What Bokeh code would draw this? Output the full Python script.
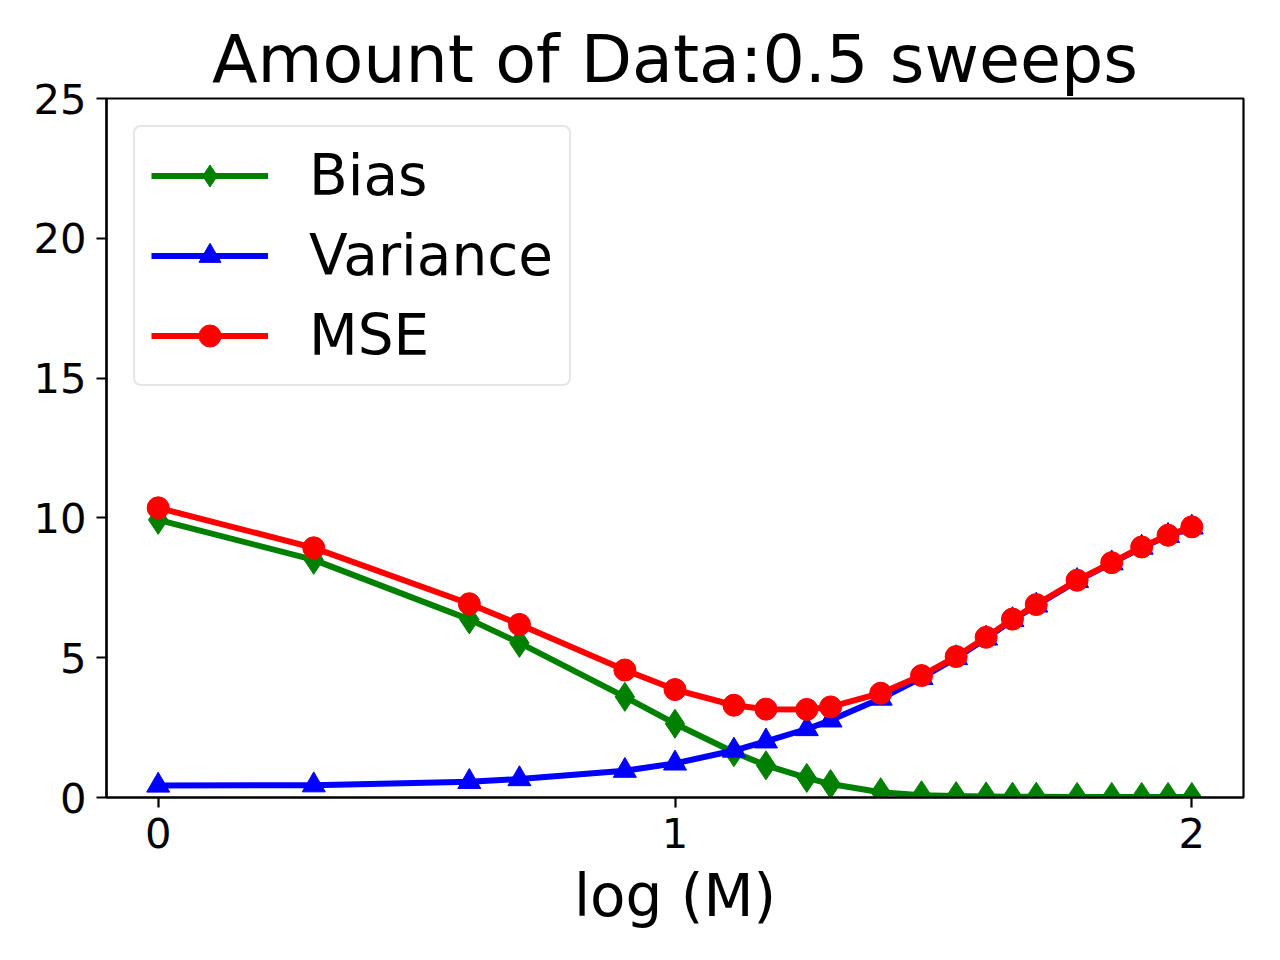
from bokeh.plotting import figure
from bokeh.models import FixedTicker, Legend, LegendItem, Range1d
from bokeh.embed import file_html
from bokeh.resources import INLINE

# ---- data ----
log_m = [0.0, 0.301, 0.602, 0.699, 0.903, 1.0, 1.114, 1.176, 1.255, 1.301, 1.398,
         1.477, 1.544, 1.602, 1.653, 1.699, 1.778, 1.845, 1.903, 1.954, 2.0]
bias = [9.93, 8.50, 6.37, 5.53, 3.60, 2.64, 1.62, 1.15, 0.70, 0.48, 0.19,
        0.08, 0.05, 0.04, 0.03, 0.03, 0.02, 0.02, 0.02, 0.02, 0.02]
variance = [0.43, 0.44, 0.56, 0.66, 0.96, 1.22, 1.68, 2.01, 2.45, 2.76, 3.54,
            4.28, 4.99, 5.69, 6.35, 6.87, 7.75, 8.38, 8.94, 9.36, 9.66]
mse = [10.36, 8.93, 6.93, 6.19, 4.56, 3.86, 3.30, 3.16, 3.15, 3.24, 3.73,
       4.36, 5.04, 5.73, 6.38, 6.90, 7.77, 8.40, 8.96, 9.38, 9.68]
x_ticks = [0, 1, 2]
y_ticks = [0, 5, 10, 15, 20, 25]
title_text = "Amount of Data:0.5 sweeps"
x_label = "log (M)"

FONT = "DejaVu Sans"

p = figure(width=1280, height=960, output_backend="svg", toolbar_location=None,
           x_range=Range1d(-0.1, 2.1), y_range=Range1d(0, 25),
           min_border_left=106, min_border_right=37, min_border_top=98,
           min_border_bottom=163)

p.title.text = title_text
p.title.text_font = FONT
p.title.text_font_size = "66.7px"
p.title.text_font_style = "normal"
p.title.text_color = "black"
p.title.align = "center"
p.title.standoff = 1

p.grid.visible = False
p.outline_line_color = "black"
p.outline_line_width = 2.2
p.background_fill_color = "white"
p.border_fill_color = "white"

for ax in (p.xaxis[0], p.yaxis[0]):
    ax.axis_line_width = 2.2
    ax.axis_line_color = "black"
    ax.major_tick_line_width = 2.2
    ax.major_tick_line_color = "black"
    ax.major_tick_out = 10
    ax.major_tick_in = 0
    ax.minor_tick_out = 0
    ax.minor_tick_in = 0
    ax.major_label_text_font = FONT
    ax.major_label_text_font_size = "41.7px"
    ax.major_label_text_color = "black"
    ax.major_label_standoff = 10
    ax.axis_label_text_font = FONT
    ax.axis_label_text_font_style = "normal"
    ax.axis_label_text_color = "black"

p.xaxis.ticker = FixedTicker(ticks=x_ticks)
p.yaxis.ticker = FixedTicker(ticks=y_ticks)
p.xaxis.axis_label = x_label
p.xaxis.axis_label_text_font_size = "58px"
p.xaxis.axis_label_standoff = 11

LW = 6
items = []
series = [
    ("Bias", bias, "green", "diamond", 29),
    ("Variance", variance, "#0000ff", "triangle", 23),
    ("MSE", mse, "#ff0000", "circle", 22),
]
for name, ys, color, marker, size in series:
    r1 = p.line(log_m, ys, line_color=color, line_width=LW)
    r2 = p.scatter(log_m, ys, marker=marker, size=size, fill_color=color,
                   line_color=color, line_width=1)
    items.append(LegendItem(label=name, renderers=[r1, r2]))

legend = Legend(items=items, location="top_left", margin=27,
                label_text_font=FONT, label_text_font_size="56.5px",
                label_text_color="black",
                glyph_width=117, glyph_height=55, label_standoff=41,
                spacing=15, padding=16,
                border_line_color="#cccccc", border_line_width=2,
                background_fill_alpha=0.8)
if "border_radius" in Legend.properties():
    legend.border_radius = 8
p.add_layout(legend, "center")

open("out.html", "w").write(file_html(p, INLINE))
